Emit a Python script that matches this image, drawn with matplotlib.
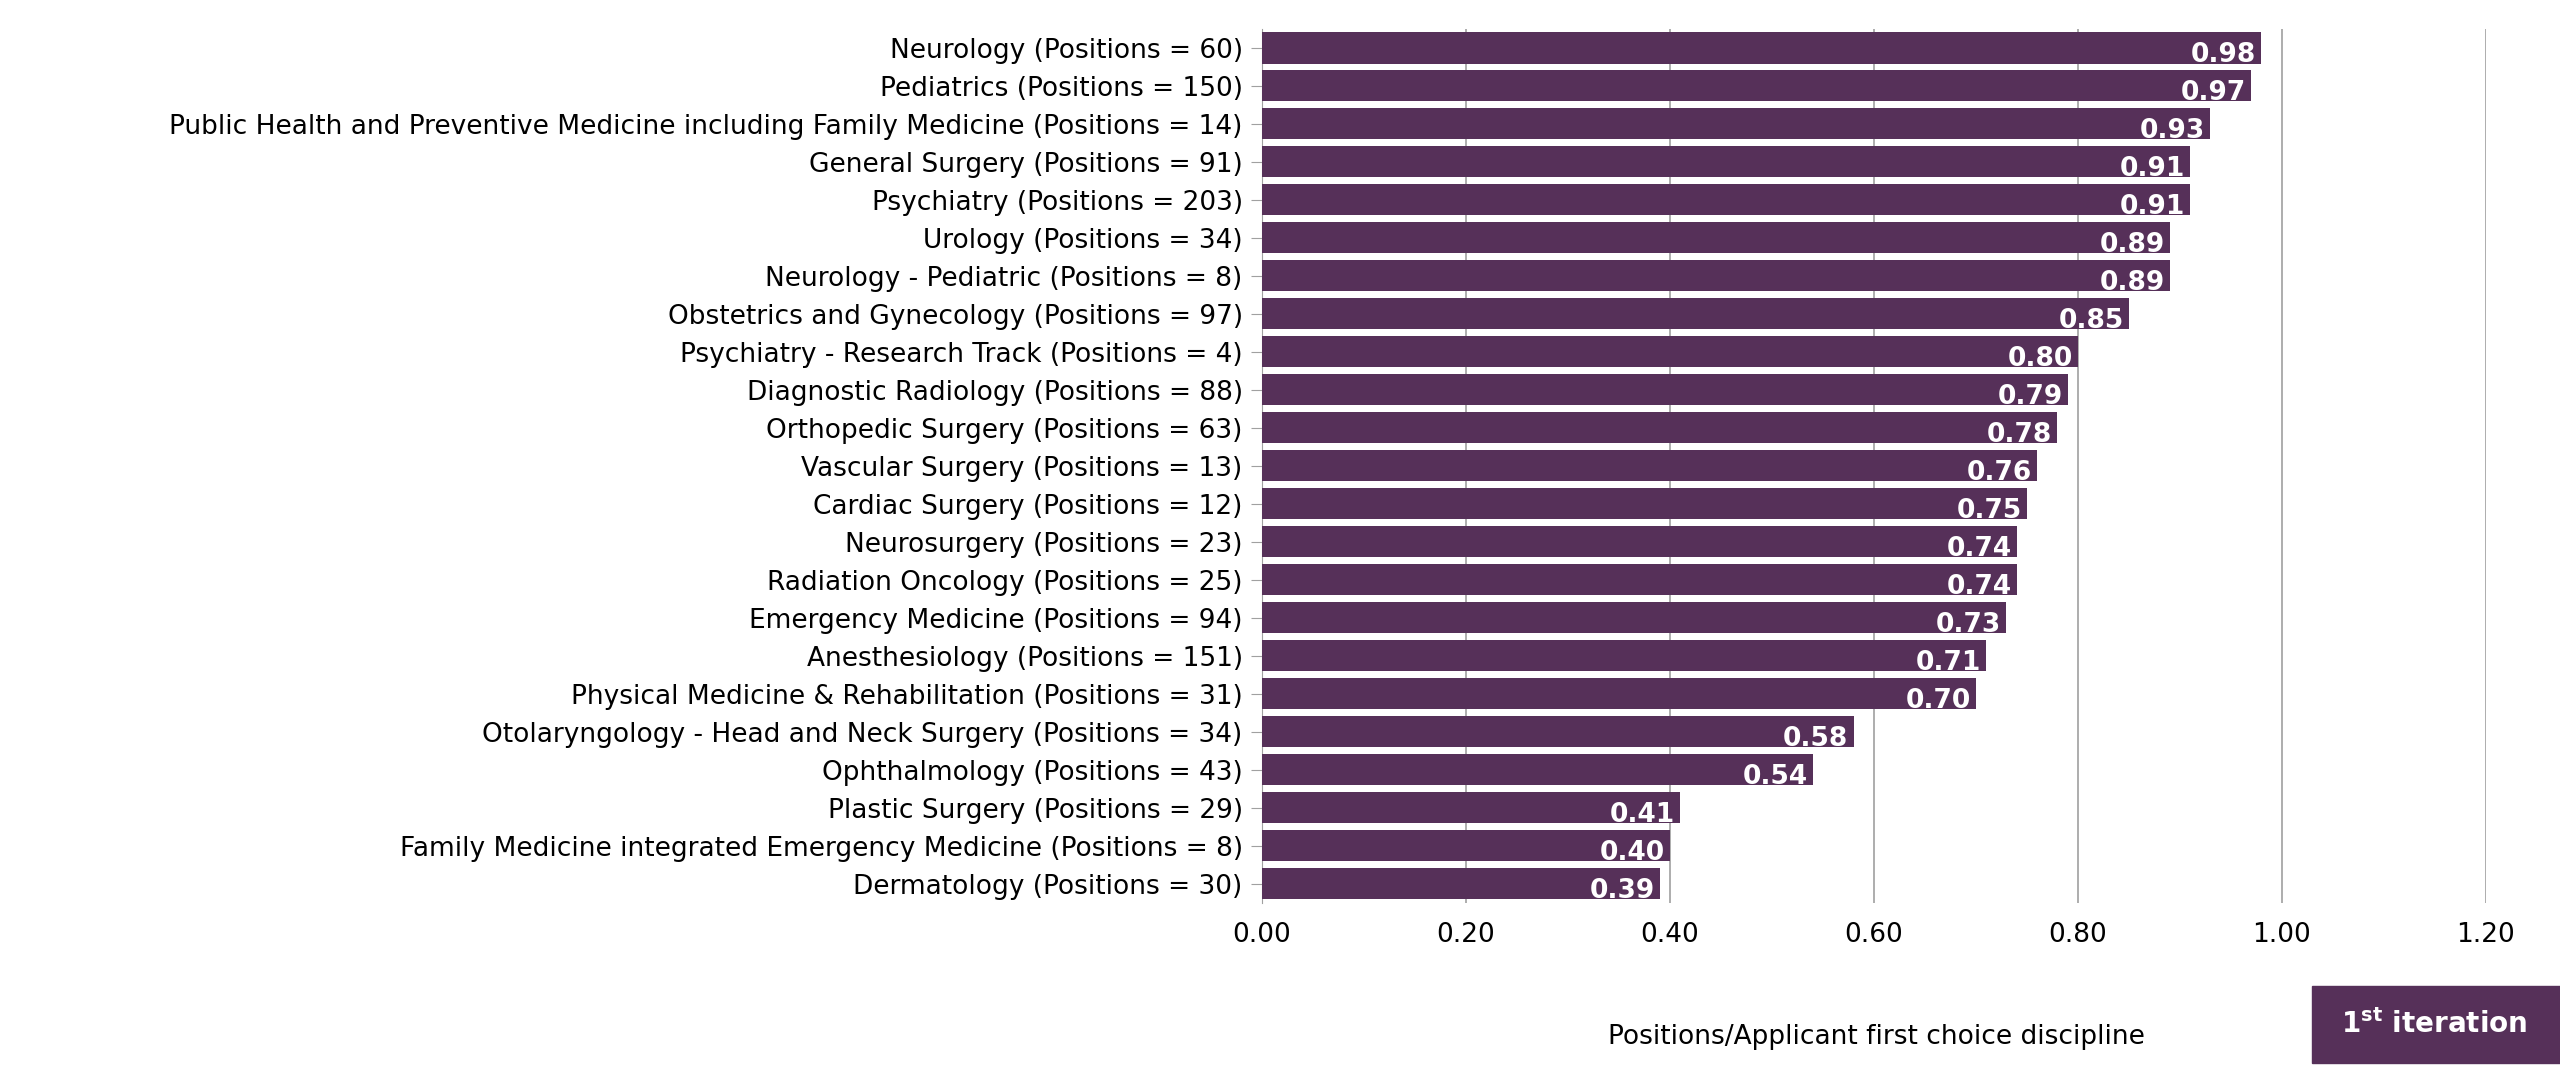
import matplotlib
matplotlib.use("Agg")
import matplotlib.pyplot as plt

categories = [
    "Neurology (Positions = 60)",
    "Pediatrics (Positions = 150)",
    "Public Health and Preventive Medicine including Family Medicine (Positions = 14)",
    "General Surgery (Positions = 91)",
    "Psychiatry (Positions = 203)",
    "Urology (Positions = 34)",
    "Neurology - Pediatric (Positions = 8)",
    "Obstetrics and Gynecology (Positions = 97)",
    "Psychiatry - Research Track (Positions = 4)",
    "Diagnostic Radiology (Positions = 88)",
    "Orthopedic Surgery (Positions = 63)",
    "Vascular Surgery (Positions = 13)",
    "Cardiac Surgery (Positions = 12)",
    "Neurosurgery (Positions = 23)",
    "Radiation Oncology (Positions = 25)",
    "Emergency Medicine (Positions = 94)",
    "Anesthesiology (Positions = 151)",
    "Physical Medicine & Rehabilitation (Positions = 31)",
    "Otolaryngology - Head and Neck Surgery (Positions = 34)",
    "Ophthalmology (Positions = 43)",
    "Plastic Surgery (Positions = 29)",
    "Family Medicine integrated Emergency Medicine (Positions = 8)",
    "Dermatology (Positions = 30)",
]
values = [0.98, 0.97, 0.93, 0.91, 0.91, 0.89, 0.89, 0.85, 0.80, 0.79, 0.78,
          0.76, 0.75, 0.74, 0.74, 0.73, 0.71, 0.70, 0.58, 0.54, 0.41, 0.40, 0.39]
xticks = [0.0, 0.2, 0.4, 0.6, 0.8, 1.0, 1.2]

color = "#563059"
fig = plt.figure(figsize=(25.6, 10.72), dpi=100)
ax = fig.add_axes([0.493, 0.158, 0.478, 0.815])
ys = list(range(len(categories)))
ax.barh(ys, values, height=0.82, color=color, zorder=3)
for y, v in zip(ys, values):
    ax.text(v - 0.005, y + 0.38, f"{v:.2f}", ha="right", va="baseline",
            color="white", fontsize=19, fontweight="bold", zorder=4)
ax.set_yticks(ys)
ax.set_yticklabels(categories, fontsize=19)
ax.set_ylim(len(categories) - 0.5, -0.5)
ax.set_xlim(0, 1.2)
ax.set_xticks(xticks)
ax.set_xticklabels([f"{t:.2f}" for t in xticks], fontsize=19)
ax.grid(axis="x", color="#a0a0a0", linewidth=1.2, zorder=0)
for s in ["top", "right", "bottom"]:
    ax.spines[s].set_visible(False)
ax.spines["left"].set_color("#a0a0a0")
ax.tick_params(axis="y", length=8, color="#a0a0a0", pad=6)
ax.tick_params(axis="x", length=0, pad=14)
fig.text(0.733, 0.033, "Positions/Applicant first choice discipline", ha="center",
         va="center", fontsize=19)
fig.patches.append(matplotlib.patches.Rectangle((0.903, 0.008), 0.097, 0.072,
                   transform=fig.transFigure, color=color))
fig.text(0.951, 0.044, r"$\mathbf{1^{st}}$ iteration", ha="center", va="center",
         fontsize=20, color="white", fontweight="bold")
fig.savefig("out.png", dpi=100)
